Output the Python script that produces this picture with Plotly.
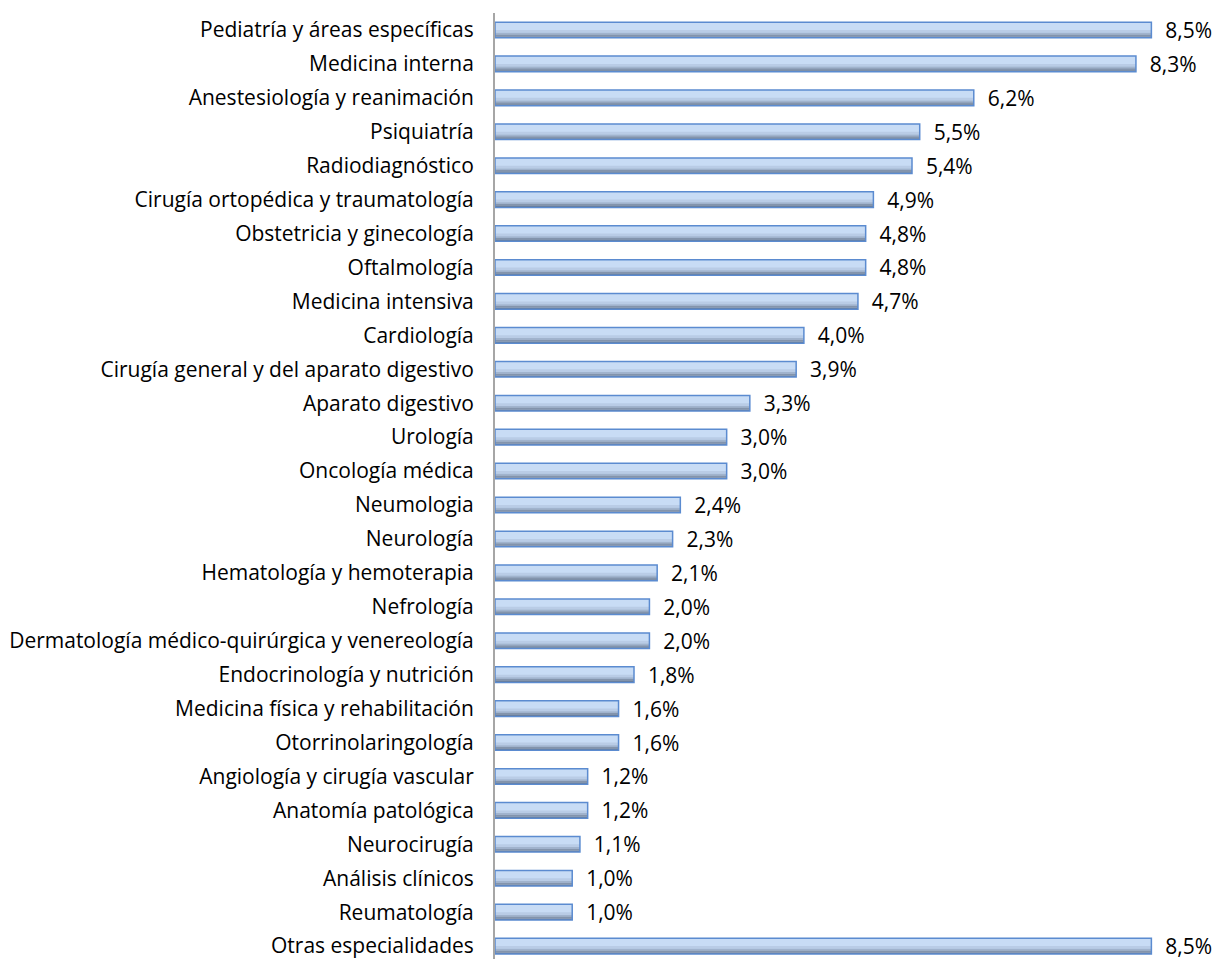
import plotly.graph_objects as go

categories = [
    "Pediatría y áreas específicas",
    "Medicina interna",
    "Anestesiología y reanimación",
    "Psiquiatría",
    "Radiodiagnóstico",
    "Cirugía ortopédica y traumatología",
    "Obstetricia y ginecología",
    "Oftalmología",
    "Medicina intensiva",
    "Cardiología",
    "Cirugía general y del aparato digestivo",
    "Aparato digestivo",
    "Urología",
    "Oncología médica",
    "Neumologia",
    "Neurología",
    "Hematología y hemoterapia",
    "Nefrología",
    "Dermatología médico-quirúrgica y venereología",
    "Endocrinología y nutrición",
    "Medicina física y rehabilitación",
    "Otorrinolaringología",
    "Angiología y cirugía vascular",
    "Anatomía patológica",
    "Neurocirugía",
    "Análisis clínicos",
    "Reumatología",
    "Otras especialidades",
]
values = [8.5, 8.3, 6.2, 5.5, 5.4, 4.9, 4.8, 4.8, 4.7, 4.0, 3.9, 3.3, 3.0, 3.0,
          2.4, 2.3, 2.1, 2.0, 2.0, 1.8, 1.6, 1.6, 1.2, 1.2, 1.1, 1.0, 1.0, 8.5]

FONT = "Open Sans"
FS = 21
BW = 0.46
fig = go.Figure()

# base bar (light fill) with value labels
fig.add_trace(go.Bar(
    y=categories, x=values, orientation="h",
    width=BW, offset=-BW / 2,
    marker=dict(color="#c8dcf5", line=dict(width=0)),
    text=values, texttemplate="  %{x:.1f}%", textposition="outside",
    constraintext="none",
    textfont=dict(family=FONT, size=FS, color="#000000"),
    cliponaxis=False, hoverinfo="skip",
))
# shading bands to imitate the vertical gradient
bands = [(0.0, 0.08, "#b9cce6"), (0.08, 0.05, "#a0b3cd"),
         (0.13, 0.06, "#8394ac"), (0.19, 0.04, "#6a7b93")]
for off, w, col in bands:
    fig.add_trace(go.Bar(
        y=categories, x=values, orientation="h",
        width=w, offset=off,
        marker=dict(color=col, line=dict(width=0)),
        hoverinfo="skip",
    ))
# outline on top
fig.add_trace(go.Bar(
    y=categories, x=values, orientation="h",
    width=BW, offset=-BW / 2,
    marker=dict(color="rgba(0,0,0,0)", line=dict(color="#5b8bd0", width=1.5)),
    hoverinfo="skip",
))

fig.update_layout(
    width=1217, height=959,
    margin=dict(l=495, r=27, t=13, b=0, autoexpand=False),
    barmode="overlay",
    showlegend=False,
    plot_bgcolor="white", paper_bgcolor="white",
    separators=",.",
    font=dict(family=FONT, size=FS, color="#000000"),
)
fig.update_xaxes(range=[0, 9.0], visible=False)
fig.update_yaxes(
    type="category",
    categoryorder="array", categoryarray=categories,
    range=[27.38, -0.5],
    automargin=False,
    showline=True, linecolor="#a6a6a6", linewidth=2,
    showgrid=False, ticks="", ticklabelstandoff=15,
    tickfont=dict(family=FONT, size=FS, color="#000000"),
)

fig.write_html("out.html",
               config={"displayModeBar": False, "staticPlot": True},
               post_script="document.body.style.margin='0';document.body.style.overflow='hidden';")
